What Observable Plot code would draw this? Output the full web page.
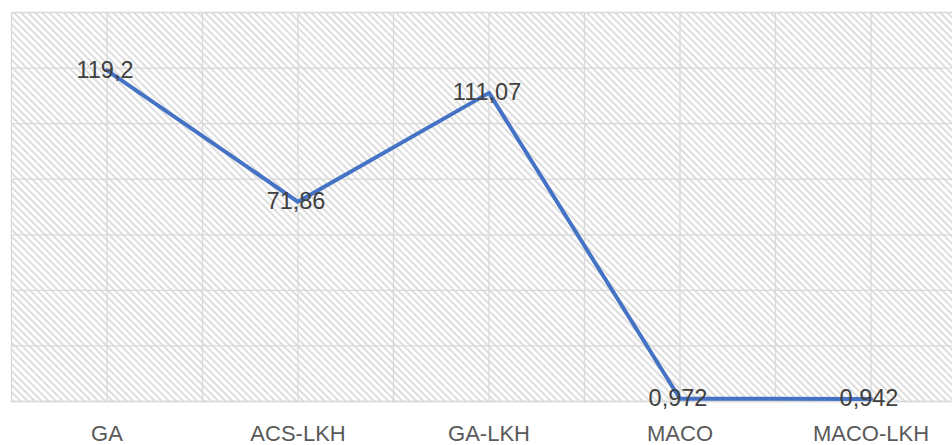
<!DOCTYPE html>
<html>
<head>
<meta charset="utf-8">
<script src="https://cdn.jsdelivr.net/npm/d3@7"></script>
<script src="https://cdn.jsdelivr.net/npm/@observablehq/plot@0.6"></script>
<style>
  html, body { margin: 0; padding: 0; background: #fff; }
</style>
</head>
<body>
<div id="chart"></div>
<script>
const categories = ["GA", "ACS-LKH", "GA-LKH", "MACO", "MACO-LKH"];
const values = [119.2, 71.86, 111.07, 0.972, 0.942];
const valueLabels = ["119,2", "71,86", "111,07", "0,972", "0,942"];
const yTicks = [0, 20, 40, 60, 80, 100, 120, 140];

const data = categories.map((c, i) => ({i, category: c, value: values[i], label: valueLabels[i]}));
const xGrid = d3.range(-0.5, categories.length, 0.5);

const chart = Plot.plot({
  width: 952,
  height: 445,
  marginLeft: 11,
  marginRight: -14,
  marginTop: 12,
  marginBottom: 44,
  style: {fontFamily: "Liberation Sans, Arial, sans-serif", background: "#fff", overflow: "hidden"},
  x: {type: "linear", domain: [-0.5, categories.length - 0.5]},
  y: {domain: [0, 140]},
  marks: [
    Plot.frame({fill: "url(#hatch)", stroke: null}),
    Plot.gridY(yTicks, {stroke: "#d9d9d9", strokeOpacity: 1, strokeWidth: 1.3}),
    Plot.gridX(xGrid, {stroke: "#d9d9d9", strokeOpacity: 1, strokeWidth: 1.3}),
    Plot.ruleY([0], {stroke: "#d9d9d9", strokeWidth: 1.5}),
    Plot.axisX(d3.range(categories.length), {
      tickFormat: i => categories[i],
      tickSize: 0,
      tickPadding: 24,
      fontSize: 22,
      color: "#595959",
      label: null
    }),
    Plot.axisY({ticks: [], label: null, tickSize: 0, tickFormat: () => ""}),
    Plot.line(data, {x: "i", y: "value", stroke: "#4472C4", strokeWidth: 4, strokeLinejoin: "round", strokeLinecap: "round"}),
    Plot.text(data, {x: "i", y: "value", text: "label", fontSize: 23.5, fill: "#404040", textAnchor: "middle", lineAnchor: "middle", dx: -2})
  ]
});

const svg = d3.select(chart);
const defs = svg.insert("defs", ":first-child");
const pat = defs.append("pattern")
  .attr("id", "hatch")
  .attr("patternUnits", "userSpaceOnUse")
  .attr("width", 5)
  .attr("height", 5)
  .attr("patternTransform", "rotate(-45)");
pat.append("rect").attr("width", 5).attr("height", 5).attr("fill", "#ffffff");
pat.append("rect").attr("width", 1.8).attr("height", 5).attr("fill", "#dadada");

document.getElementById("chart").appendChild(chart);
</script>
</body>
</html>
